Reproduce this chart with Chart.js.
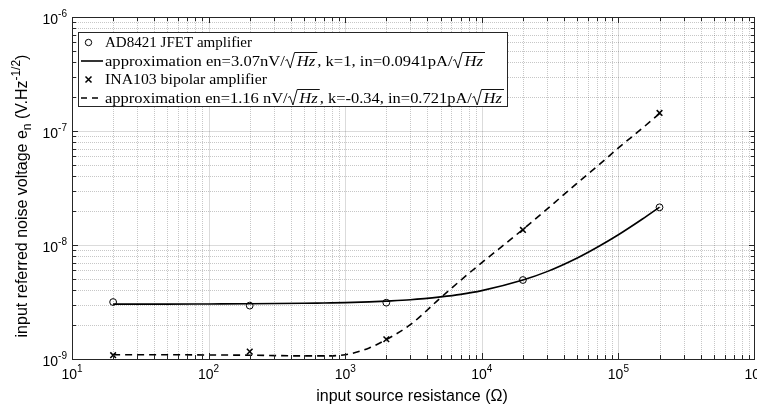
<!DOCTYPE html>
<html><head><meta charset="utf-8">
<script src="https://cdn.jsdelivr.net/npm/chart.js@4.4.1/dist/chart.umd.min.js"></script>
<style>html,body{margin:0;padding:0;background:#fff;}#wrap{width:757px;height:407px;position:relative;}</style>
</head><body><div id="wrap"><canvas id="c" width="757" height="407"></canvas></div>
<script>
// ---- data ----
const resistance = [20, 200, 2000, 20000, 200000];
const ad8421Measured = [3.16e-9, 2.94e-9, 3.12e-9, 4.93e-9, 2.14e-8];
const ina103Measured = [1.08e-9, 1.16e-9, 1.49e-9, 1.355e-8, 1.44e-7];
const fitResistance = [20, 50, 100, 200, 500, 700, 1000, 1500, 2000, 3000, 5000, 7000, 10000, 20000, 30000, 50000, 70000, 100000, 150000, 200000];
const ad8421Fit = [3.03e-9, 3.03e-9, 3.04e-9, 3.05e-9, 3.08e-9, 3.1e-9, 3.12e-9, 3.17e-9, 3.22e-9, 3.31e-9, 3.51e-9, 3.69e-9, 3.98e-9, 4.93e-9, 5.84e-9, 7.7e-9, 9.56e-9, 1.23e-8, 1.69e-8, 2.15e-8];
const ina103Fit = [1.09e-9, 1.09e-9, 1.085e-9, 1.08e-9, 1.065e-9, 1.065e-9, 1.09e-9, 1.25e-9, 1.48e-9, 2.0e-9, 3.45e-9, 4.9e-9, 7.0e-9, 1.37e-8, 2.06e-8, 3.5e-8, 4.9e-8, 7.1e-8, 1.06e-7, 1.42e-7];
const xTickValues = [1e1, 1e2, 1e3, 1e4, 1e5, 1e6];
const xTickExponents = ['1', '2', '3', '4', '5', '6'];
const yTickValues = [1e-9, 1e-8, 1e-7, 1e-6];
const yTickExponents = ['-9', '-8', '-7', '-6'];
const seriesLabels = ['AD8421 JFET amplifier', 'approximation en=3.07nV/√Hz, k=1, in=0.0941pA/√Hz', 'INA103 bipolar amplifier', 'approximation en=1.16 nV/√Hz, k=-0.34, in=0.721pA/√Hz'];
const xTitle = 'input source resistance (Ω)';
const yTitle = ['input referred noise voltage e', 'n', ' (V.Hz', '-1/2', ')'];

const pts = (xs, ys) => xs.map((v, i) => ({x: v, y: ys[i]}));
const SANS = '"Liberation Sans", Arial, Helvetica, sans-serif';
const SERIF = '"Liberation Serif", "Times New Roman", serif';
const LFS = 15.5;

function drawSup(ctx, base, exp, x, y, align) {
  ctx.font = '14px ' + SANS;
  const wb = ctx.measureText(base).width;
  ctx.font = '10px ' + SANS;
  const we = ctx.measureText(exp).width;
  const total = wb + we;
  let x0 = align === 'right' ? x - total : x - total / 2;
  ctx.textBaseline = 'middle';
  ctx.textAlign = 'left';
  ctx.font = '14px ' + SANS;
  ctx.fillText(base, x0, y);
  ctx.font = '10px ' + SANS;
  ctx.fillText(exp, x0 + wb, y - 6);
}

// draws (or measures) a legend string where √Hz is a radical over italic Hz
function richText(ctx, text, x, y, draw) {
  const parts = text.split('√Hz');
  let cx = x;
  ctx.textBaseline = 'alphabetic';
  ctx.textAlign = 'left';
  parts.forEach((p, i) => {
    ctx.font = LFS + 'px ' + SERIF;
    if (draw) ctx.fillText(p, cx, y);
    cx += ctx.measureText(p).width;
    if (i < parts.length - 1) {
      ctx.font = 'italic ' + LFS + 'px ' + SERIF;
      const wh = ctx.measureText('Hz').width;
      if (draw) {
        ctx.beginPath();
        ctx.lineWidth = 0.9;
        ctx.moveTo(cx + 0.5, y - 5);
        ctx.lineTo(cx + 2.2, y - 6);
        ctx.lineTo(cx + 5, y + 2.5);
        ctx.lineTo(cx + 9, y - 13);
        ctx.lineTo(cx + 11.5 + wh + 1.5, y - 13);
        ctx.stroke();
        ctx.fillText('Hz', cx + 11, y);
      }
      cx += 11.5 + wh + 1.5;
    }
  });
  return cx - x;
}

const decor = {
  id: 'decor',
  beforeDatasetsDraw(chart) {
    const {ctx, chartArea: a, scales: {x, y}} = chart;
    ctx.save();
    ctx.lineWidth = 1;
    for (let e = 1; e < 6; e++) for (let k = 1; k < 10; k++) {
      const v = k * Math.pow(10, e);
      const px = Math.round(x.getPixelForValue(v)) + 0.5;
      if (px <= a.left + 1 || px >= a.right - 1) continue;
      ctx.beginPath();
      if (k === 1) { ctx.setLineDash([]); ctx.strokeStyle = 'rgba(0,0,0,0.14)'; }
      else { ctx.setLineDash([1, 1]); ctx.strokeStyle = 'rgba(0,0,0,0.22)'; }
      ctx.moveTo(px, a.top); ctx.lineTo(px, a.bottom); ctx.stroke();
    }
    for (let e = -9; e < -6; e++) for (let k = 1; k < 10; k++) {
      const v = k * Math.pow(10, e);
      const py = Math.round(y.getPixelForValue(v)) + 0.5;
      if (py <= a.top + 1 || py >= a.bottom - 1) continue;
      ctx.beginPath();
      if (k === 1) { ctx.setLineDash([]); ctx.strokeStyle = 'rgba(0,0,0,0.14)'; }
      else { ctx.setLineDash([1, 1]); ctx.strokeStyle = 'rgba(0,0,0,0.22)'; }
      ctx.moveTo(a.left, py); ctx.lineTo(a.right, py); ctx.stroke();
    }
    ctx.restore();
  },
  afterDraw(chart) {
    const {ctx, chartArea: a, scales: {x, y}} = chart;
    ctx.save();
    ctx.setLineDash([]);
    ctx.strokeStyle = '#262626';
    ctx.lineWidth = 1;
    for (let e = 1; e < 6; e++) for (let k = 1; k < 10; k++) {
      const v = k * Math.pow(10, e);
      const px = Math.round(x.getPixelForValue(v)) + 0.5;
      const L = k === 1 ? 6 : 4;
      ctx.beginPath();
      ctx.moveTo(px, a.bottom); ctx.lineTo(px, a.bottom - L);
      ctx.moveTo(px, a.top); ctx.lineTo(px, a.top + L);
      ctx.stroke();
    }
    for (let e = -9; e < -6; e++) for (let k = 1; k < 10; k++) {
      const v = k * Math.pow(10, e);
      const py = Math.round(y.getPixelForValue(v)) + 0.5;
      const L = k === 1 ? 6 : 4;
      ctx.beginPath();
      ctx.moveTo(a.left, py); ctx.lineTo(a.left + L, py);
      ctx.moveTo(a.right, py); ctx.lineTo(a.right - L, py);
      ctx.stroke();
    }
    ctx.strokeRect(Math.round(a.left) + 0.5, Math.round(a.top) + 0.5, Math.round(a.right - a.left) - 1, Math.round(a.bottom - a.top));
    // tick labels
    ctx.fillStyle = '#000';
    xTickValues.forEach((v, i) => drawSup(ctx, '10', xTickExponents[i], x.getPixelForValue(v), a.bottom + 16, 'center'));
    yTickValues.forEach((v, i) => drawSup(ctx, '10', yTickExponents[i], a.left - 5, y.getPixelForValue(v) + 3, 'right'));
    // axis titles
    ctx.font = '16px ' + SANS;
    ctx.textAlign = 'center';
    ctx.textBaseline = 'middle';
    ctx.fillText(xTitle, 412, 397);
    ctx.save();
    ctx.translate(27, 196);
    ctx.rotate(-Math.PI / 2);
    const segs = [[yTitle[0], 16, 0], [yTitle[1], 12, 4], [yTitle[2], 16, 0], [yTitle[3], 12, -7], [yTitle[4], 16, 0]];
    let tw = 0;
    segs.forEach(s => { ctx.font = s[1] + 'px ' + SANS; tw += ctx.measureText(s[0]).width; });
    let cx = -tw / 2;
    ctx.textAlign = 'left';
    ctx.textBaseline = 'alphabetic';
    segs.forEach(s => { ctx.font = s[1] + 'px ' + SANS; ctx.fillText(s[0], cx, s[2]); cx += ctx.measureText(s[0]).width; });
    ctx.restore();
    // legend
    const lx = 78.5, ly = 32.5, lw = 429, lh = 74;
    ctx.fillStyle = '#fff';
    ctx.fillRect(lx, ly, lw, lh);
    ctx.strokeStyle = '#262626';
    ctx.lineWidth = 1;
    ctx.strokeRect(lx, ly, lw, lh);
    const rows = [47, 65.5, 84, 102.5];
    const rowEnds = [252, 485, 267, 504];
    ctx.fillStyle = '#000';
    ctx.strokeStyle = '#000';
    ctx.lineWidth = 1;
    ctx.beginPath(); ctx.arc(88.5, rows[0] - 4.5, 3.2, 0, Math.PI * 2); ctx.stroke();
    ctx.lineWidth = 1.6;
    ctx.beginPath(); ctx.moveTo(81, rows[1] - 4.5); ctx.lineTo(103, rows[1] - 4.5); ctx.stroke();
    ctx.lineWidth = 1.5;
    ctx.beginPath(); ctx.moveTo(85.5, rows[2] - 7.5); ctx.lineTo(91.5, rows[2] - 1.5); ctx.moveTo(91.5, rows[2] - 7.5); ctx.lineTo(85.5, rows[2] - 1.5); ctx.stroke();
    ctx.lineWidth = 1.6;
    ctx.setLineDash([6, 5]);
    ctx.beginPath(); ctx.moveTo(81, rows[3] - 4.5); ctx.lineTo(103, rows[3] - 4.5); ctx.stroke();
    ctx.setLineDash([]);
    seriesLabels.forEach((t, i) => {
      const w = richText(ctx, t, 0, 0, false);
      const sx = Math.min(1.15, Math.max(0.9, (rowEnds[i] - 105) / w));
      ctx.save();
      ctx.translate(105, rows[i]);
      ctx.scale(sx, 1);
      richText(ctx, t, 0, 0, true);
      ctx.restore();
    });
    ctx.restore();
  }
};

new Chart(document.getElementById('c'), {
  type: 'line',
  data: {
    datasets: [
      {label: seriesLabels[0], data: pts(resistance, ad8421Measured), showLine: false, pointStyle: 'circle', pointRadius: 3.4, pointBorderWidth: 1, borderColor: '#000', pointBackgroundColor: 'rgba(255,255,255,0)', order: 1},
      {label: seriesLabels[1], data: pts(fitResistance, ad8421Fit), borderColor: '#000', borderWidth: 1.6, pointRadius: 0, cubicInterpolationMode: 'monotone', fill: false, order: 2},
      {label: seriesLabels[2], data: pts(resistance, ina103Measured), showLine: false, pointStyle: 'crossRot', pointRadius: 4, pointBorderWidth: 1.5, borderColor: '#000', order: 1},
      {label: seriesLabels[3], data: pts(fitResistance, ina103Fit), borderColor: '#000', borderWidth: 1.6, borderDash: [7, 5], pointRadius: 0, cubicInterpolationMode: 'monotone', fill: false, order: 2}
    ]
  },
  options: {
    responsive: false,
    animation: false,
    events: [],
    layout: {autoPadding: false, padding: {left: 0, right: 2, top: 17, bottom: 0}},
    plugins: {legend: {display: false}, tooltip: {enabled: false}},
    scales: {
      x: {type: 'logarithmic', min: 10, max: 1e6, grid: {display: false}, border: {display: false}, ticks: {display: false},
          afterFit(s) { s.height = 48; }},
      y: {type: 'logarithmic', min: 1e-9, max: 1e-6, grid: {display: false}, border: {display: false}, ticks: {display: false},
          afterFit(s) { s.width = 72; }}
    }
  },
  plugins: [decor]
});
</script>
</body></html>
